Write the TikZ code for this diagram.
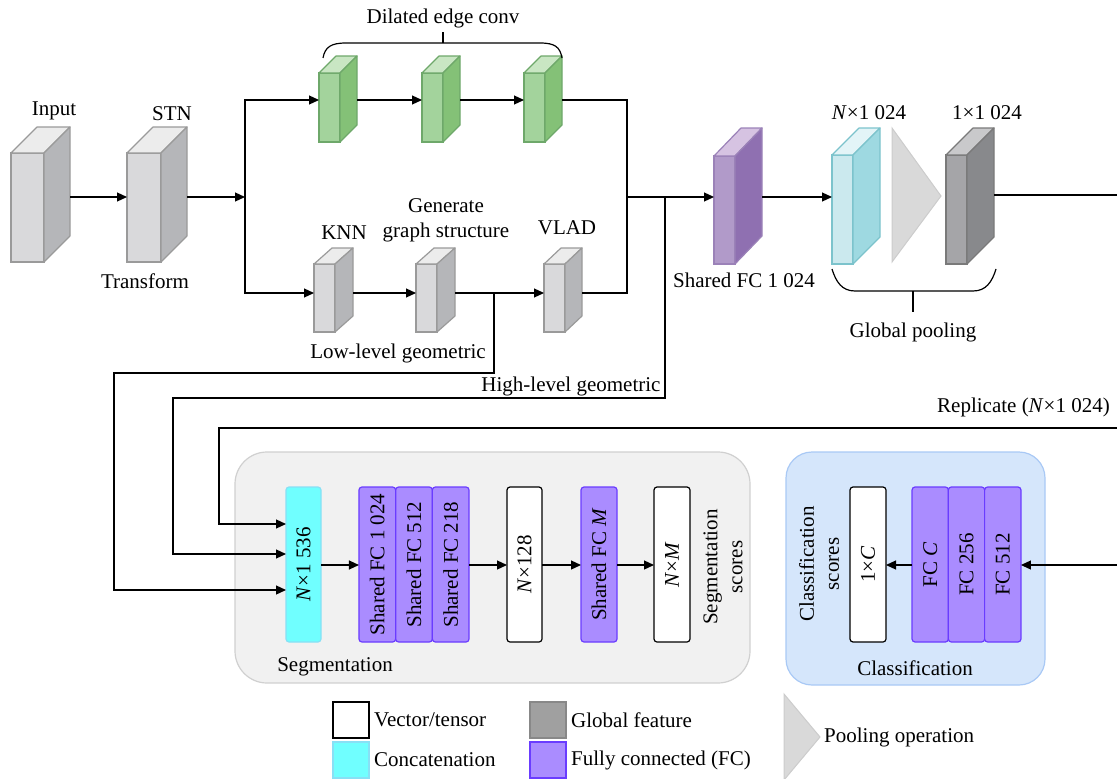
\documentclass[tikz,border=0pt]{standalone}
\usepackage{fontspec}
\setmainfont{Liberation Serif}
\usetikzlibrary{arrows.meta,calc}
\definecolor{grayfront}{HTML}{D9D9DB}
\definecolor{grayside}{HTML}{B5B6B9}
\definecolor{graytop}{HTML}{ECECEC}
\definecolor{grayline}{HTML}{9A9A9A}
\definecolor{greenfront}{HTML}{A3D39C}
\definecolor{greenside}{HTML}{84C177}
\definecolor{greentop}{HTML}{C9E6C3}
\definecolor{greenline}{HTML}{6EA86A}
\definecolor{purpfront}{HTML}{B19AC9}
\definecolor{purpside}{HTML}{8F70B1}
\definecolor{purptop}{HTML}{D6C3E2}
\definecolor{purpline}{HTML}{9B82B8}
\definecolor{cyanfront}{HTML}{CBE9EE}
\definecolor{cyanside}{HTML}{9ED9E1}
\definecolor{cyantop}{HTML}{E3F4F7}
\definecolor{cyanline}{HTML}{7CC3CC}
\definecolor{dgrayfront}{HTML}{A5A5A8}
\definecolor{dgrayside}{HTML}{88898C}
\definecolor{dgraytop}{HTML}{C9C9CB}
\definecolor{dgrayline}{HTML}{7A7A7A}
\definecolor{fcfill}{HTML}{AA8CFF}
\definecolor{fcline}{HTML}{6A3CFF}
\definecolor{catfill}{HTML}{70FFFF}
\definecolor{catline}{HTML}{88E0F5}
\definecolor{segfill}{HTML}{F1F1F1}
\definecolor{segline}{HTML}{D0D0D0}
\definecolor{clsfill}{HTML}{D5E6FB}
\definecolor{clsline}{HTML}{A9C9F5}
\definecolor{poolfill}{HTML}{D9D9D9}
\definecolor{poolline}{HTML}{CCCCCC}
\definecolor{leggray}{HTML}{A0A0A0}
\definecolor{legline}{HTML}{888888}

\newcommand{\cuboid}[8]{%
 \node[draw=#8line, fill=#8front, line width=1.2pt, minimum width=#4pt, minimum height=#5pt, inner sep=0pt, outer sep=0pt, anchor=north west] (#1) at (#2,#3) {};
 \draw[draw=#8line, fill=#8top, line width=1.2pt, line join=round] (#1.north west) -- ++(#6,-#7) -- ++(#4,0) -- (#1.north east) -- cycle;
 \draw[draw=#8line, fill=#8side, line width=1.2pt, line join=round] (#1.north east) -- ++(#6,-#7) -- ++(0,#5) -- (#1.south east) -- cycle;
 \coordinate (#1r) at ($(#1.east)+(#6,0)$);
}

\tikzset{
 lbl/.style={font=\fontsize{21}{25}\selectfont, inner sep=0pt, align=center},
 arr/.style={line width=1.2pt, -{Triangle[length=10pt,width=9pt]}},
 conn/.style={line width=1.2pt},
 flat/.style={minimum height=155pt, inner sep=0pt, outer sep=0pt, rounded corners=3pt, line width=1.2pt},
 fcbox/.style={flat, draw=fcline, fill=fcfill},
 catbox/.style={flat, draw=catline, fill=catfill},
 vecbox/.style={flat, draw=black, fill=white},
 rtext/.style={lbl, rotate=90},
 legbox/.style={minimum width=36pt, minimum height=36pt, inner sep=0pt, line width=1.2pt},
}

\begin{document}
\begin{tikzpicture}[x=1pt,y=-1pt]
\useasboundingbox (0,0) rectangle (1117,779);

% panels
\node[draw=segline, fill=segfill, line width=1.2pt, rounded corners=32pt, minimum width=515pt, minimum height=231pt, inner sep=0pt] (seg) at (492.5,567.5) {};
\node[draw=clsline, fill=clsfill, line width=1.2pt, rounded corners=26pt, minimum width=259pt, minimum height=233pt, inner sep=0pt] (cls) at (915.5,568.5) {};

% cuboids
\cuboid{input}{11}{153}{33}{109}{26}{26}{gray}
\cuboid{stn}{127}{153}{34}{109}{26}{26}{gray}
\cuboid{g1}{319}{73}{21}{69}{17}{17}{green}
\cuboid{g2}{422}{73}{21}{69}{17}{17}{green}
\cuboid{g3}{524}{73}{21}{69}{17}{17}{green}
\cuboid{knn}{314}{264}{21}{68}{18}{16}{gray}
\cuboid{gen}{416}{264}{21}{68}{18}{16}{gray}
\cuboid{vlad}{544}{264}{21}{68}{17}{16}{gray}
\cuboid{pfc}{714}{156}{21}{108}{27}{28}{purp}
\cuboid{cyc}{832}{155}{21}{109}{27}{27}{cyan}
\cuboid{glob}{946}{155}{21}{109}{27}{27}{dgray}

% pooling triangle
\draw[draw=poolline, fill=poolfill, line width=1pt] (892,128) -- (941,196) -- (892,262) -- cycle;

% row coordinates
\coordinate (rowA) at (0,100);
\coordinate (rowB) at (0,197);
\coordinate (rowC) at (0,293);
\coordinate (rowD) at (0,565);
\coordinate (in1) at (0,524);
\coordinate (in2) at (0,554);
\coordinate (in3) at (0,590);

% top labels
\node[lbl] (tinput) at (54,111) {Input};
\node[lbl] (tstn) at (172,114) {STN};
\node[lbl] (ttrans) at (145,281) {Transform};
\node[lbl] (tdil) at (443,18) {Dilated edge conv};
\node[lbl] (tknn) at (344,233) {KNN};
\node[lbl] (tgen) at (446,220) {Generate\\graph structure};
\node[lbl] (tvlad) at (567,228) {VLAD};
\node[lbl] (tlow) at (398,353) {Low-level geometric};
\node[lbl] (thigh) at (571,386) {High-level geometric};
\node[lbl] (tsfc) at (744,280) {Shared FC 1 024};
\node[lbl] (tn1024) at (869,113) {\textit{N}×1 024};
\node[lbl] (t11024) at (987,113) {1×1 024};
\node[lbl] (tgp) at (913,332) {Global pooling};
\node[lbl, anchor=east] (trep) at (1110,407) {Replicate (\textit{N}×1 024)};

% braces
\draw[conn] (323,58) .. controls (325,47) and (331,43) .. (346,43) -- (540,43) .. controls (555,43) and (560,47) .. (562,58);
\draw[conn] (443,43) -- (443,32);
\draw[conn] (832,269) .. controls (836,282) and (842,291) .. (855,291) -- (973,291) .. controls (986,291) and (992,282) .. (996,269);
\draw[conn] (913,291) -- (913,312);

% main connectors
\coordinate (split) at (245,197);
\coordinate (join) at (627,197);
\coordinate (hb) at (665,197);
\coordinate (hl1) at (665,398);
\coordinate (hl2) at (173,398);
\coordinate (ll0) at (494,293);
\coordinate (ll1) at (494,373);
\coordinate (ll2) at (114,373);
\coordinate (gout) at (1117,195);
\coordinate (rep) at (1117,428);
\coordinate (rep2) at (219,428);
\coordinate (cin) at (1117,565);

\draw[arr] (inputr |- rowB) -- (stn.west |- rowB);
\draw[arr] (stnr |- rowB) -- (split);
\draw[arr] (split) |- (g1.west |- rowA);
\draw[arr] (split) |- (knn.west |- rowC);
\draw[arr] (g1r |- rowA) -- (g2.west |- rowA);
\draw[arr] (g2r |- rowA) -- (g3.west |- rowA);
\draw[arr] (knnr |- rowC) -- (gen.west |- rowC);
\draw[arr] (genr |- rowC) -- (vlad.west |- rowC);
\draw[conn] (g3r |- rowA) -| (join) |- (vladr |- rowC);
\draw[arr] (join) -- (pfc.west |- rowB);
\draw[arr] (pfcr |- rowB) -- (cyc.west |- rowB);
\draw[conn] (globr |- gout) -- (gout);

% segmentation boxes
\node[catbox, minimum width=35pt] (cat) at (303.5,564.5) {};
\node[fcbox, minimum width=36.67pt] (sfc1) at (377.3,564.5) {};
\node[fcbox, minimum width=36.67pt] (sfc2) at (414,564.5) {};
\node[fcbox, minimum width=36.67pt] (sfc3) at (450.7,564.5) {};
\node[vecbox, minimum width=35pt] (n128) at (524.5,564.5) {};
\node[fcbox, minimum width=36pt] (sfcm) at (599,564.5) {};
\node[vecbox, minimum width=36pt] (nm) at (672,564.5) {};
\node[rtext] (tcat) at (cat) {\textit{N}×1 536};
\node[rtext] (tsfc1) at (sfc1) {Shared FC 1 024};
\node[rtext] (tsfc2) at (sfc2) {Shared FC 512};
\node[rtext] (tsfc3) at (sfc3) {Shared FC 218};
\node[rtext] (tn128) at (n128) {\textit{N}×128};
\node[rtext] (tsfcm) at (sfcm) {Shared FC \textit{M}};
\node[rtext] (tnm) at (nm) {\textit{N}×\textit{M}};
\node[rtext] (tsegsc) at (723,567) {Segmentation\\scores};
\node[lbl] (tseg) at (335,667) {Segmentation};

% classification boxes
\node[vecbox, minimum width=36pt] (onec) at (868,564.5) {};
\node[fcbox, minimum width=36.33pt] (fcc) at (930.2,564.5) {};
\node[fcbox, minimum width=36.33pt] (fc256) at (966.5,564.5) {};
\node[fcbox, minimum width=36.33pt] (fc512) at (1002.8,564.5) {};
\node[rtext] (tonec) at (onec) {1×\textit{C}};
\node[rtext] (tfcc) at (fcc) {FC \textit{C}};
\node[rtext] (tfc256) at (fc256) {FC 256};
\node[rtext] (tfc512) at (fc512) {FC 512};
\node[rtext] (tclssc) at (819,564) {Classification\\scores};
\node[lbl] (tcls) at (915,668) {Classification};

% segmentation / classification connectors
\draw[arr] (cat.east |- rowD) -- (sfc1.west |- rowD);
\draw[arr] (sfc3.east |- rowD) -- (n128.west |- rowD);
\draw[arr] (n128.east |- rowD) -- (sfcm.west |- rowD);
\draw[arr] (sfcm.east |- rowD) -- (nm.west |- rowD);
\draw[arr] (cin) -- (fc512.east |- cin);
\draw[arr] (fcc.west |- rowD) -- (onec.east |- rowD);

% long feedback connectors
\draw[arr] (rep) -- (rep2) |- (cat.west |- in1);
\draw[arr] (hb) -- (hl1) -- (hl2) |- (cat.west |- in2);
\draw[arr] (ll0) -- (ll1) -- (ll2) |- (cat.west |- in3);

% legend
\node[legbox, draw=black, fill=white] (lvec) at (351,720) {};
\node[legbox, draw=catline, fill=catfill] (lcat) at (351,760) {};
\node[legbox, draw=legline, fill=leggray] (lglob) at (548,720) {};
\node[legbox, draw=fcline, fill=fcfill] (lfc) at (548,760) {};
\node[lbl, anchor=west] (tlvec) at (374,720) {Vector/tensor};
\node[lbl, anchor=west] (tlcat) at (374,760) {Concatenation};
\node[lbl, anchor=west] (tlglob) at (571,720) {Global feature};
\node[lbl, anchor=west] (tlfc) at (571,760) {Fully connected (FC)};
\draw[draw=poolline, fill=poolfill, line width=1pt] (784,694) -- (820,737) -- (784,780) -- cycle;
\node[lbl, anchor=west] (tlpool) at (824,737) {Pooling operation};
\end{tikzpicture}
\end{document}
